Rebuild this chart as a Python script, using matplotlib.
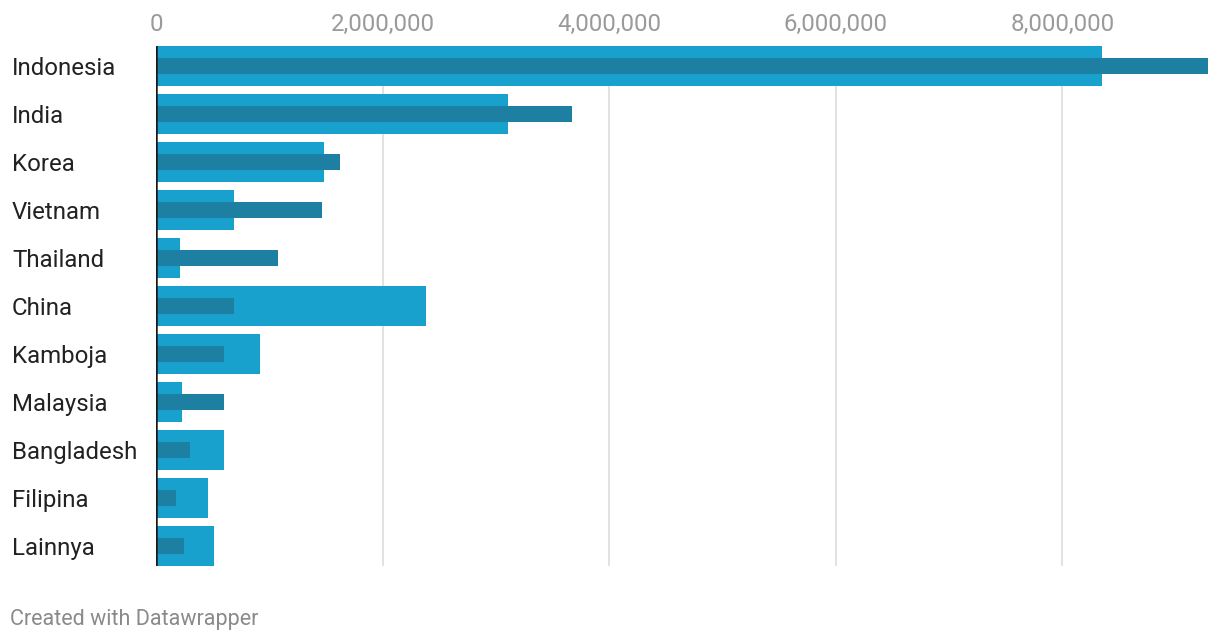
import matplotlib
matplotlib.use("Agg")
import matplotlib.pyplot as plt
import matplotlib.ticker as mticker

countries = ["Indonesia", "India", "Korea", "Vietnam", "Thailand", "China",
             "Kamboja", "Malaysia", "Bangladesh", "Filipina", "Lainnya"]
wide_values = [8350000, 3107000, 1483000, 688000, 212000, 2383000,
               918000, 229000, 600000, 459000, 512000]
narrow_values = [9285000, 3672000, 1624000, 1465000, 1077000, 688000,
                 600000, 600000, 300000, 177000, 247000]
tick_values = [0, 2000000, 4000000, 6000000, 8000000]

W, H = 1220, 642
fig = plt.figure(figsize=(W / 100, H / 100), dpi=100)
plt.rcParams['font.family'] = ['Roboto', 'DejaVu Sans']

ax = fig.add_axes([156 / W, (H - 566) / H, (1208 - 156) / W, (566 - 46) / H])
ypos = list(range(len(countries)))
ax.barh(ypos, wide_values, height=40 / 48, color="#18a1cd", zorder=2)
ax.barh(ypos, narrow_values, height=16 / 48, color="#1d7fa1", zorder=3)

ax.set_xlim(0, max(narrow_values))
ax.set_ylim(len(countries) - 1 + 20 / 48, -20 / 48)

ax.set_xticks(tick_values)
ax.xaxis.set_major_formatter(mticker.FuncFormatter(lambda v, p: f"{int(v):,}"))
ax.xaxis.tick_top()
ax.tick_params(axis="x", length=0, pad=7, labelsize=17.3, labelcolor="#9a9a9a")
ax.grid(axis="x", color="#e2e2e2", lw=1.4, zorder=0)
ax.set_axisbelow(True)

ax.set_yticks(ypos)
ax.set_yticklabels(countries)
ax.tick_params(axis="y", length=0, pad=144 * 0.72, labelsize=17.3, labelcolor="#222222")
for lab in ax.get_yticklabels():
    lab.set_horizontalalignment("left")
    lab.set_verticalalignment("center_baseline")

for s in ax.spines.values():
    s.set_visible(False)
ax.axvline(0, color="#1a1a1a", lw=1.8, zorder=4)

fig.text(10 / W, 1 - 620 / H, "Created with Datawrapper", fontsize=15.5,
         color="#8a8a8a", va="center", ha="left")

fig.savefig("out.png", dpi=100)
